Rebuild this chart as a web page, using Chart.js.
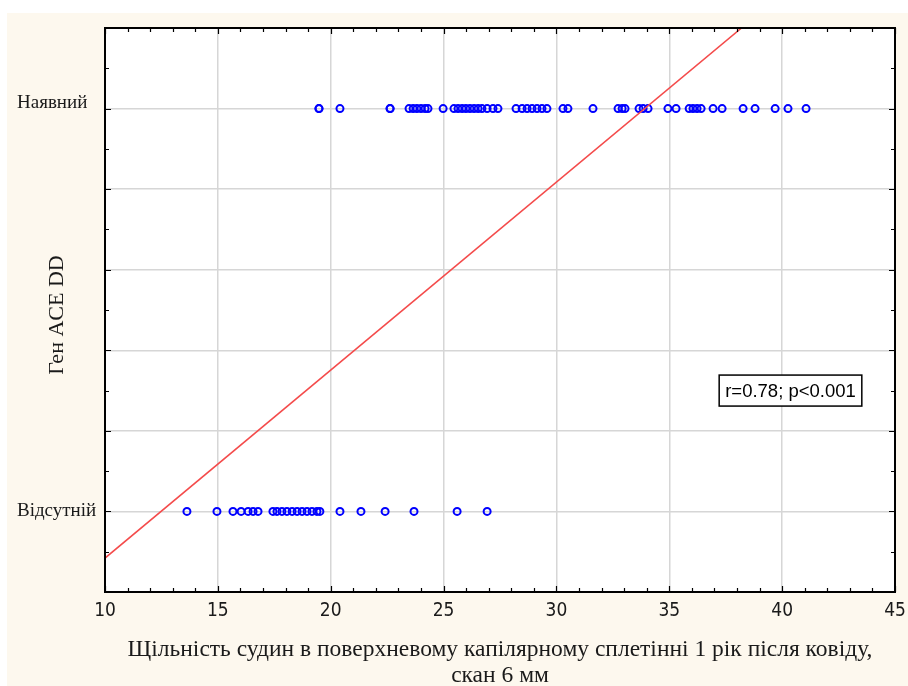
<!DOCTYPE html>
<html lang="uk">
<head>
<meta charset="utf-8">
<title>Ген ACE DD та щільність судин</title>
<script src="https://cdn.jsdelivr.net/npm/chart.js@4.4.1/dist/chart.umd.min.js"></script>
<style>
  html, body { margin: 0; padding: 0; background: #ffffff; }
  #wrap { position: relative; width: 908px; height: 686px; }
  canvas { display: block; }
</style>
</head>
<body>
<div id="wrap"><canvas id="chart" width="908" height="686"></canvas></div>
<script>
// Group labels on the vertical axis (0 = absent, 1 = present)
const groupLabels = { 0: 'Відсутній', 1: 'Наявний' };

// Vessel density values (%) for patients with the ACE DD gene present
const presentDensity = [
  19.48, 19.48, 20.41, 22.63, 22.63, 23.47, 23.65, 23.82, 24.00, 24.18, 24.31,
  24.98, 25.46, 25.64, 25.82, 25.99, 26.17, 26.35, 26.53, 26.70, 26.93, 27.19,
  27.41, 28.21, 28.48, 28.70, 28.92, 29.14, 29.36, 29.58, 30.29, 30.51, 31.62,
  32.73, 32.91, 33.04, 33.66, 33.84, 34.06, 34.94, 35.30, 35.88, 36.05, 36.23,
  36.41, 36.94, 37.34, 38.27, 38.80, 39.69, 40.26, 41.06
];

// Vessel density values (%) for patients without the ACE DD gene
const absentDensity = [
  13.63, 14.96, 15.67, 16.03, 16.34, 16.56, 16.78, 17.44, 17.62, 17.84, 18.06,
  18.29, 18.51, 18.73, 18.95, 19.17, 19.39, 19.52, 20.41, 21.34, 22.41, 23.69,
  25.60, 26.93
];

// Endpoints of the fitted regression line
const fitX = [10, 38.2];
const fitY = [-0.116, 1.2];

// Axis ranges and tick steps
const xTicks = { min: 10, max: 45, step: 5 };
const yTicks = { min: -0.2, max: 1.2, step: 0.2 };

const statText = 'r=0.78; p<0.001';
const xTitleLines = ['Щільність судин в поверхневому капілярному сплетінні 1 рік після ковіду,', 'скан 6 мм'];
const yTitle = 'Ген ACE DD';

const toPoints = (xs, level) => xs.map(v => ({ x: v, y: level }));

const serif = '"Liberation Serif", "Times New Roman", serif';
const narrow = '"Liberation Sans Narrow", "Arial Narrow", "DejaVu Sans Condensed", sans-serif';
const sans = '"Liberation Sans", Arial, sans-serif';

// Page background, white plot field, frame, inward ticks, titles and stat box
const decor = {
  id: 'decor',
  beforeDraw(chart) {
    const { ctx, chartArea: a } = chart;
    ctx.save();
    ctx.fillStyle = '#fdf8ee';
    ctx.fillRect(7, 13, chart.width - 7, chart.height - 13);
    ctx.fillStyle = '#ffffff';
    ctx.fillRect(a.left, a.top, a.right - a.left, a.bottom - a.top);
    ctx.restore();
  },
  afterDraw(chart) {
    const { ctx, chartArea: a, scales: { x, y } } = chart;
    ctx.save();

    // stat box
    const cx = x.getPixelForValue(40.37);
    const cy = y.getPixelForValue(0.3);
    ctx.font = '18.5px ' + sans;
    const tw = ctx.measureText(statText).width;
    const bw = tw + 12, bh = 31;
    ctx.fillStyle = '#ffffff';
    ctx.fillRect(cx - bw / 2, cy - bh / 2, bw, bh);
    ctx.strokeStyle = '#000000';
    ctx.lineWidth = 1.5;
    ctx.strokeRect(cx - bw / 2, cy - bh / 2, bw, bh);
    ctx.fillStyle = '#000000';
    ctx.textAlign = 'center';
    ctx.textBaseline = 'middle';
    ctx.fillText(statText, cx, cy + 1);

    // frame
    ctx.strokeStyle = '#000000';
    ctx.lineWidth = 2;
    ctx.strokeRect(a.left, a.top, a.right - a.left, a.bottom - a.top);

    // inward minor / major ticks
    ctx.lineWidth = 1.2;
    ctx.beginPath();
    for (let v = xTicks.min; v <= xTicks.max; v += 1) {
      const px = Math.round(x.getPixelForValue(v)) + 0.5;
      const len = v % 5 === 0 ? 6 : 4;
      ctx.moveTo(px, a.bottom); ctx.lineTo(px, a.bottom - len);
      ctx.moveTo(px, a.top); ctx.lineTo(px, a.top + len);
    }
    for (let k = -2; k <= 12; k++) {
      const py = Math.round(y.getPixelForValue(k / 10)) + 0.5;
      const len = k % 2 === 0 ? 6 : 4;
      ctx.moveTo(a.left, py); ctx.lineTo(a.left + len, py);
      ctx.moveTo(a.right, py); ctx.lineTo(a.right - len, py);
    }
    ctx.stroke();

    // axis titles
    ctx.fillStyle = '#1a1a1a';
    ctx.font = '23.5px ' + serif;
    ctx.textAlign = 'center';
    ctx.textBaseline = 'middle';
    const midX = (a.left + a.right) / 2;
    ctx.fillText(xTitleLines[0], midX, 650);
    ctx.fillText(xTitleLines[1], midX, 676);

    ctx.translate(57, (a.top + a.bottom) / 2 + 5);
    ctx.rotate(-Math.PI / 2);
    ctx.font = '22px ' + serif;
    ctx.fillText(yTitle, 0, 0);
    ctx.restore();
  }
};

new Chart(document.getElementById('chart'), {
  type: 'scatter',
  data: {
    datasets: [
      {
        type: 'line',
        data: fitX.map((v, i) => ({ x: v, y: fitY[i] })),
        borderColor: '#f44b4b',
        borderWidth: 1.6,
        pointRadius: 0,
        fill: false,
        tension: 0
      },
      {
        data: toPoints(presentDensity, 1),
        borderColor: '#0000ff',
        backgroundColor: 'rgba(0,0,0,0)',
        borderWidth: 2,
        pointRadius: 3.5,
        pointStyle: 'circle'
      },
      {
        data: toPoints(absentDensity, 0),
        borderColor: '#0000ff',
        backgroundColor: 'rgba(0,0,0,0)',
        borderWidth: 2,
        pointRadius: 3.5,
        pointStyle: 'circle'
      }
    ]
  },
  options: {
    responsive: false,
    devicePixelRatio: 1,
    animation: false,
    layout: { padding: { left: 17, top: 28, right: 13, bottom: 0 } },
    plugins: { legend: { display: false }, tooltip: { enabled: false } },
    scales: {
      x: {
        type: 'linear',
        min: xTicks.min,
        max: xTicks.max,
        afterFit(scale) {
          scale.height = 94;
          scale.paddingLeft = 0;
          scale.paddingRight = 0;
        },
        border: { display: false },
        grid: { color: '#d6d6d6', lineWidth: 1.5, drawTicks: false },
        ticks: {
          stepSize: xTicks.step,
          padding: 8,
          color: '#1a1a1a',
          font: { family: narrow, size: 19 }
        }
      },
      y: {
        type: 'linear',
        min: yTicks.min,
        max: yTicks.max,
        afterFit(scale) {
          scale.width = 88;
          scale.paddingTop = 0;
          scale.paddingBottom = 0;
        },
        border: { display: false },
        grid: { color: '#d6d6d6', lineWidth: 1.5, drawTicks: false },
        ticks: {
          stepSize: yTicks.step,
          autoSkip: false,
          crossAlign: 'far',
          color: '#1a1a1a',
          font: { family: serif, size: 19, lineHeight: '12px' },
          callback(v) {
            // the upper label sits slightly above its grid line
            if (Math.abs(v - 1) < 1e-9) return [groupLabels[1], ''];
            if (Math.abs(v) < 1e-9) return groupLabels[0];
            return '';
          }
        }
      }
    }
  },
  plugins: [decor]
});
</script>
</body>
</html>
